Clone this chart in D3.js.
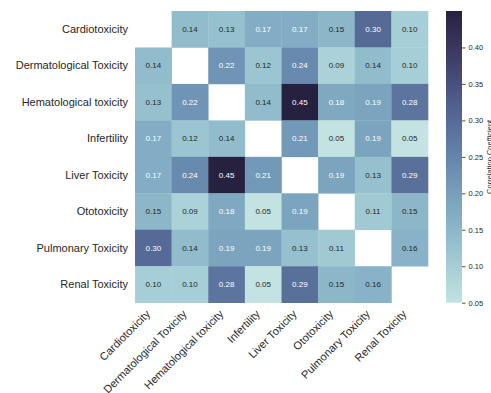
<!DOCTYPE html>
<html>
<head>
<meta charset="utf-8">
<script src="https://cdn.jsdelivr.net/npm/d3@7"></script>
<style>
  html, body { margin: 0; padding: 0; background: #fff; }
  svg { display: block; font-family: "Liberation Sans", Arial, sans-serif; }
</style>
</head>
<body>
<svg id="chart" width="491" height="393"></svg>
<script>
// Toxicity categories (rows and columns share the same order)
const categories = [
  "Cardiotoxicity", "Dermatological Toxicity", "Hematological toxicity",
  "Infertility", "Liver Toxicity", "Ototoxicity", "Pulmonary Toxicity", "Renal Toxicity"
];

// Pairwise correlation coefficients (null on the diagonal)
const cardiotoxicity   = [null, 0.14, 0.13, 0.17, 0.17, 0.15, 0.30, 0.10];
const dermatological   = [0.14, null, 0.22, 0.12, 0.24, 0.09, 0.14, 0.10];
const hematological    = [0.13, 0.22, null, 0.14, 0.45, 0.18, 0.19, 0.28];
const infertility      = [0.17, 0.12, 0.14, null, 0.21, 0.05, 0.19, 0.05];
const liver            = [0.17, 0.24, 0.45, 0.21, null, 0.19, 0.13, 0.29];
const ototoxicity      = [0.15, 0.09, 0.18, 0.05, 0.19, null, 0.11, 0.15];
const pulmonary        = [0.30, 0.14, 0.19, 0.19, 0.13, 0.11, null, 0.16];
const renal            = [0.10, 0.10, 0.28, 0.05, 0.29, 0.15, 0.16, null];

const colorbarTicks = [0.05, 0.10, 0.15, 0.20, 0.25, 0.30, 0.35, 0.40];
const colorbarLabel = "Correlation Coefficient";

const matrix = [cardiotoxicity, dermatological, hematological, infertility,
                liver, ototoxicity, pulmonary, renal];

// Cubehelix ramp (start .2, rotation -.3), light for low values, dark for high
function cubehelix(t) {
  const start = 0.2, rot = -0.3, hue = 0.8, light = 0.85, dark = 0.15;
  const x = light + (dark - light) * t;
  const a = hue * x * (1 - x) / 2;
  const phi = 2 * Math.PI * (start / 3 + rot * x);
  const c = Math.cos(phi), s = Math.sin(phi);
  const r = x + a * (-0.14861 * c + 1.78277 * s);
  const g = x + a * (-0.29227 * c - 0.90649 * s);
  const b = x + a * (1.97294 * c);
  const clamp = v => Math.max(0, Math.min(1, v));
  return d3.rgb(clamp(r) * 255, clamp(g) * 255, clamp(b) * 255).formatHex();
}

function luminance(hex) {
  const c = d3.rgb(hex);
  const lin = v => { v /= 255; return v <= 0.03928 ? v / 12.92 : Math.pow((v + 0.055) / 1.055, 2.4); };
  return 0.2126 * lin(c.r) + 0.7152 * lin(c.g) + 0.0722 * lin(c.b);
}

const cells = [];
matrix.forEach((row, i) => row.forEach((v, j) => {
  if (v !== null) cells.push({ row: categories[i], col: categories[j], value: v });
}));

const values = cells.map(d => d.value);
const color = d3.scaleSequential(cubehelix).domain(d3.extent(values));

const svg = d3.select("#chart");
const plot = { left: 135, top: 11, width: 293, height: 291.7 };

const x = d3.scaleBand().domain(categories).range([plot.left, plot.left + plot.width]);
const y = d3.scaleBand().domain(categories).range([plot.top, plot.top + plot.height]);

// Heatmap cells
svg.append("g").selectAll("rect").data(cells).join("rect")
  .attr("x", d => x(d.col))
  .attr("y", d => y(d.row))
  .attr("width", x.bandwidth() + 0.3)
  .attr("height", y.bandwidth() + 0.3)
  .attr("fill", d => color(d.value));

// Cell annotations
svg.append("g").selectAll("text").data(cells).join("text")
  .attr("x", d => x(d.col) + x.bandwidth() / 2)
  .attr("y", d => y(d.row) + y.bandwidth() / 2)
  .attr("dy", "0.35em")
  .attr("text-anchor", "middle")
  .attr("font-size", 8)
  .attr("fill", d => luminance(color(d.value)) > 0.408 ? "#262626" : "#ffffff")
  .text(d => d.value.toFixed(2));

// Row labels
const yAxis = svg.append("g")
  .attr("transform", `translate(${plot.left},0)`)
  .call(d3.axisLeft(y).tickSize(0).tickPadding(7));
yAxis.select(".domain").remove();
yAxis.selectAll("text").attr("font-size", 11).attr("fill", "#262626")
  .attr("font-family", "Liberation Sans, Arial, sans-serif");

// Column labels, rotated 45 degrees
const xAxis = svg.append("g")
  .attr("transform", `translate(0,${plot.top + plot.height})`)
  .call(d3.axisBottom(x).tickSize(0).tickPadding(0));
xAxis.select(".domain").remove();
xAxis.selectAll("text")
  .attr("font-size", 11).attr("fill", "#262626")
  .attr("font-family", "Liberation Sans, Arial, sans-serif")
  .attr("text-anchor", "end")
  .attr("dy", null)
  .attr("y", 0)
  .attr("transform", "translate(-2.5,12) rotate(-45)");

// Colorbar
const cb = { x: 446, width: 16, top: plot.top, height: plot.height };
const cbScale = d3.scaleLinear().domain(color.domain()).range([cb.top + cb.height, cb.top]);

const defs = svg.append("defs");
const grad = defs.append("linearGradient").attr("id", "cbGrad")
  .attr("x1", 0).attr("y1", 1).attr("x2", 0).attr("y2", 0);
d3.range(0, 1.0001, 0.05).forEach(t => {
  grad.append("stop").attr("offset", t).attr("stop-color", cubehelix(t));
});
svg.append("rect")
  .attr("x", cb.x).attr("y", cb.top)
  .attr("width", cb.width).attr("height", cb.height)
  .attr("fill", "url(#cbGrad)");

const cbAxis = svg.append("g")
  .attr("transform", `translate(${cb.x + cb.width},0)`)
  .call(d3.axisRight(cbScale).tickValues(colorbarTicks).tickFormat(d3.format(".2f"))
    .tickSize(3.5).tickPadding(3));
cbAxis.select(".domain").remove();
cbAxis.selectAll("line").attr("stroke", "#262626").attr("stroke-width", 0.8);
cbAxis.selectAll("text").attr("font-size", 7.5).attr("fill", "#262626")
  .attr("font-family", "Liberation Sans, Arial, sans-serif");

svg.append("text")
  .attr("transform", `translate(491.5,${cb.top + cb.height / 2}) rotate(-90)`)
  .attr("text-anchor", "middle")
  .attr("font-size", 7.5)
  .attr("fill", "#262626")
  .text(colorbarLabel);
</script>
</body>
</html>
